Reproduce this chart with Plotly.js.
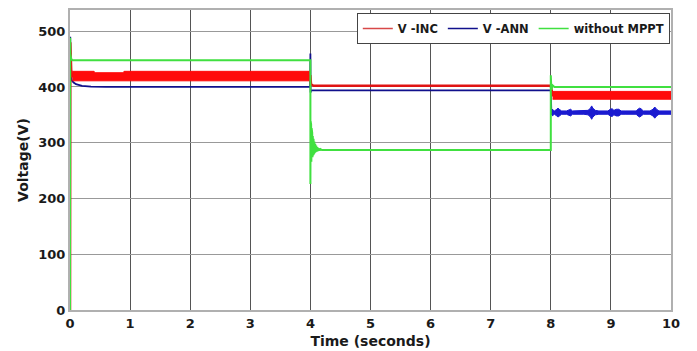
<!DOCTYPE html>
<html>
<head>
<meta charset="utf-8">
<script src="https://cdn.plot.ly/plotly-3.0.1.min.js"></script>
<style>html,body{margin:0;padding:0;background:#fff;}#chart{width:697px;height:351px;}</style>
</head>
<body>
<div id="chart"></div>
<script>
// ---- data ----
// V -INC main trace
const incT = [0, 0.005, 0.02, 0.04, 3.99, 4.0, 4.01, 4.05, 7.995, 8.0, 8.03, 10];
const incV = [0, 480, 430, 419, 419, 419, 405, 402, 402, 402, 385, 385];
// V -INC oscillation band 0-4 s (envelope)
const incBand1T = [0.04, 0.4, 0.42, 0.88, 0.9, 3.98];
const incBand1Hi = [428, 428, 425.5, 425.5, 428, 428];
const incBand1Lo = [411, 411, 411, 411, 411, 411];
// V -INC oscillation band 8-10 s (envelope)
const incBand2T = [8.03, 10];
const incBand2Hi = [392, 392];
const incBand2Lo = [378, 378];

// V -ANN main trace
const annT = [0, 0.004, 0.01, 0.03, 0.06, 0.1, 0.2, 0.35, 0.6, 3.995, 4.0, 4.003, 4.01, 4.03, 4.1, 7.995, 8.0, 8.01, 8.03, 10];
const annV = [0, 490, 430, 412, 408, 405, 402, 400.5, 400, 400, 460, 390, 393, 394, 394, 394, 394, 350, 354, 354];
// V -ANN ripple band 8-10 s (envelope)
const annBandT  = [8.02, 8.06, 8.1, 8.12, 8.14, 8.18, 8.26, 8.3, 8.33, 8.36, 8.55, 8.62, 8.66, 8.68, 8.7, 8.74, 8.8, 8.95, 8.99, 9.02, 9.05, 9.09, 9.13, 9.17, 9.25, 9.42, 9.46, 9.48, 9.5, 9.54, 9.65, 9.7, 9.73, 9.76, 9.8, 10];
const annBandHi = [360, 357, 360, 362, 360, 357, 357, 359, 360, 357, 357, 358, 362, 366, 362, 358, 357, 357, 360, 361, 358, 360, 360, 357, 357, 357, 361, 362, 361, 357, 357, 360, 364, 360, 357, 357];
const annBandLo = [348, 351, 348, 346, 348, 351, 351, 349, 348, 351, 351, 350, 346, 342, 346, 350, 351, 351, 348, 347, 350, 348, 348, 351, 351, 351, 347, 346, 347, 351, 351, 348, 344, 348, 351, 351];

// without MPPT
const noT = [0, 0.003, 0.006, 0.02, 0.04, 3.995, 4.0, 4.0, 4.004, 4.008, 4.012, 4.016, 4.02, 4.025, 4.03, 4.035, 4.04, 4.046, 4.052, 4.058, 4.065, 4.072, 4.08, 4.088, 4.097, 4.106, 4.116, 4.127, 4.14, 4.155, 4.17, 4.19, 7.995, 8.0, 8.0, 8.01, 8.03, 8.06, 10];
const noV = [0, 488, 460, 450, 448, 448, 448, 226, 338, 262, 333, 266, 326, 270, 318, 274, 312, 277, 307, 279, 302, 281, 298, 283, 295, 284, 292, 285, 290, 286, 288.5, 287, 287, 287, 421, 395, 403, 400, 400];

const xTicks = [0,1,2,3,4,5,6,7,8,9,10];
const yTicks = [0,100,200,300,400,500];

const names = ['V -INC', 'V -ANN', 'without MPPT'];
const colors = {inc: '#e01414', incBand: '#ff0a0a', ann: '#10108c', annBand: '#1a1ad0', no: '#40e040'};

function band(t, hi, lo) {
  return {x: t.concat(t.slice().reverse()), y: hi.concat(lo.slice().reverse())};
}
const b1 = band(incBand1T, incBand1Hi, incBand1Lo);
const b2 = band(incBand2T, incBand2Hi, incBand2Lo);
const b3 = band(annBandT, annBandHi, annBandLo);

const traces = [
  {x: annT, y: annV, type: 'scatter', mode: 'lines', name: names[1], showlegend: false,
   line: {color: colors.ann, width: 1.8}},
  {x: b3.x, y: b3.y, type: 'scatter', mode: 'lines', fill: 'toself', fillcolor: colors.annBand,
   line: {color: colors.annBand, width: 1}, showlegend: false, hoverinfo: 'skip'},
  {x: incT, y: incV, type: 'scatter', mode: 'lines', name: names[0], showlegend: false,
   line: {color: colors.inc, width: 2.5}},
  {x: b1.x, y: b1.y, type: 'scatter', mode: 'lines', fill: 'toself', fillcolor: colors.incBand,
   line: {color: colors.incBand, width: 1}, showlegend: false, hoverinfo: 'skip'},
  {x: b2.x, y: b2.y, type: 'scatter', mode: 'lines', fill: 'toself', fillcolor: colors.incBand,
   line: {color: colors.incBand, width: 1}, showlegend: false, hoverinfo: 'skip'},
  {x: noT, y: noV, type: 'scatter', mode: 'lines', name: names[2], showlegend: false,
   line: {color: colors.no, width: 2}},
  // legend keys (thin lines, as in the reference legend)
  {x: [null], y: [null], type: 'scatter', mode: 'lines', name: names[0], line: {color: '#d84848', width: 1.3}},
  {x: [null], y: [null], type: 'scatter', mode: 'lines', name: names[1], line: {color: colors.ann, width: 1.6}},
  {x: [null], y: [null], type: 'scatter', mode: 'lines', name: names[2], line: {color: colors.no, width: 1.6}}
];

const font = {family: 'DejaVu Sans', size: 13, color: '#1a1a1a', weight: 'bold'};

const layout = {
  width: 697, height: 351,
  margin: {l: 70, r: 26, t: 10, b: 41},
  paper_bgcolor: '#ffffff', plot_bgcolor: '#ffffff',
  font: font,
  showlegend: true,
  legend: {orientation: 'h', x: 0.998, xanchor: 'right', y: 0.99, yanchor: 'top',
    bgcolor: '#ffffff', bordercolor: '#444', borderwidth: 1,
    font: {family: 'DejaVu Sans', size: 11.5, color: '#1a1a1a', weight: 'bold'},
    traceorder: 'normal'},
  xaxis: {range: [0, 10], tickvals: xTicks, ticktext: xTicks.map(String),
    showgrid: true, gridcolor: '#555', gridwidth: 1, zeroline: false,
    showline: true, linecolor: '#b0b0b0', linewidth: 2, mirror: true,
    ticks: '', tickfont: font,
    title: {text: 'Time (seconds)', font: {family: 'DejaVu Sans', size: 14, color: '#1a1a1a', weight: 'bold'}, standoff: 7}},
  yaxis: {range: [0, 538], tickvals: yTicks, ticktext: yTicks.map(String),
    showgrid: true, gridcolor: '#999', gridwidth: 1, zeroline: false,
    showline: true, linecolor: '#b0b0b0', linewidth: 2, mirror: true,
    ticks: '', tickfont: font,
    title: {text: 'Voltage(V)', font: {family: 'DejaVu Sans', size: 14, color: '#1a1a1a', weight: 'bold'}, standoff: 6}}
};

Plotly.newPlot('chart', traces, layout, {displayModeBar: false, staticPlot: true});
</script>
</body>
</html>
